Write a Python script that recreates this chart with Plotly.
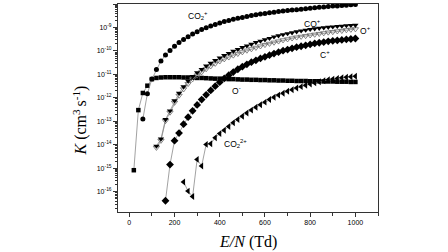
import plotly.graph_objects as go
import numpy as np

# E/N (Td) values per species
E_Om = [20, 40, 60, 80, 100, 120, 140, 160, 180, 200, 220, 240, 260, 280, 300, 320, 340, 360, 380, 400,
        420, 440, 460, 480, 500, 520, 540, 560, 580, 600, 620, 640, 660, 680, 700, 720, 740, 760, 780, 800,
        820, 840, 860, 880, 900, 920, 940, 960, 980, 1000]
logK_Om = [-15.08, -12.52, -11.79, -11.48, -11.2, -11.15, -11.13, -11.12, -11.12, -11.12, -11.12, -11.13,
           -11.13, -11.14, -11.15, -11.15, -11.16, -11.17, -11.18, -11.18, -11.19, -11.2, -11.2, -11.21,
           -11.22, -11.22, -11.23, -11.23, -11.24, -11.24, -11.25, -11.25, -11.26, -11.26, -11.27, -11.27,
           -11.28, -11.28, -11.28, -11.29, -11.29, -11.29, -11.3, -11.3, -11.3, -11.31, -11.31, -11.31,
           -11.32, -11.32]

E_CO2p = [60, 80, 100, 120, 140, 160, 180, 200, 220, 240, 260, 280, 300, 320, 340, 360, 380, 400,
          420, 440, 460, 480, 500, 520, 540, 560, 580, 600, 620, 640, 660, 680, 700, 720, 740, 760, 780, 800,
          820, 840, 860, 880, 900, 920, 940, 960, 980, 1000]
logK_CO2p = [-12.9, -11.82, -11.2, -10.79, -10.43, -10.17, -9.98, -9.8, -9.64, -9.51, -9.39, -9.28, -9.18,
             -9.09, -9.01, -8.94, -8.87, -8.81, -8.75, -8.7, -8.65, -8.61, -8.57, -8.53, -8.49, -8.46, -8.43,
             -8.4, -8.37, -8.35, -8.32, -8.3, -8.28, -8.26, -8.24, -8.22, -8.2, -8.18, -8.16, -8.14, -8.13,
             -8.11, -8.09, -8.08, -8.06, -8.05, -8.03, -8.02]

E_COp = [120, 140, 160, 180, 200, 220, 240, 260, 280, 300, 320, 340, 360, 380, 400,
         420, 440, 460, 480, 500, 520, 540, 560, 580, 600, 620, 640, 660, 680, 700, 720, 740, 760, 780, 800,
         820, 840, 860, 880, 900, 920, 940, 960, 980, 1000]
logK_COp = [-14.05, -13.75, -12.92, -12.55, -12.12, -11.8, -11.52, -11.28, -11.08, -10.92, -10.78, -10.64,
            -10.52, -10.4, -10.29, -10.19, -10.1, -10.01, -9.93, -9.85, -9.78, -9.71, -9.64, -9.58, -9.52,
            -9.46, -9.4, -9.35, -9.3, -9.26, -9.22, -9.18, -9.14, -9.11, -9.08, -9.05, -9.03, -9.01, -8.99,
            -8.97, -8.95, -8.94, -8.92, -8.91, -8.9]

E_Op = list(E_COp)
logK_Op = [-14.12, -13.82, -12.98, -12.62, -12.2, -11.9, -11.63, -11.4, -11.2, -11.04, -10.9, -10.77,
           -10.65, -10.54, -10.44, -10.35, -10.27, -10.19, -10.12, -10.05, -9.98, -9.92, -9.86, -9.8, -9.74,
           -9.69, -9.64, -9.59, -9.54, -9.5, -9.46, -9.42, -9.39, -9.36, -9.33, -9.3, -9.27, -9.24, -9.21,
           -9.19, -9.16, -9.14, -9.11, -9.09, -9.07]

E_Cp = [160, 180, 200, 220, 240, 260, 280, 300, 320, 340, 360, 380, 400,
        420, 440, 460, 480, 500, 520, 540, 560, 580, 600, 620, 640, 660, 680, 700, 720, 740, 760, 780, 800,
        820, 840, 860, 880, 900, 920, 940, 960, 980, 1000]
logK_Cp = [-16.38, -14.84, -13.82, -13.5, -13.12, -12.82, -12.55, -12.3, -12.07, -11.87, -11.68, -11.5,
           -11.33, -11.17, -11.03, -10.9, -10.78, -10.67, -10.57, -10.48, -10.4, -10.32, -10.25, -10.18,
           -10.11, -10.05, -9.99, -9.94, -9.89, -9.84, -9.8, -9.76, -9.72, -9.68, -9.65, -9.62, -9.59,
           -9.57, -9.55, -9.53, -9.51, -9.49, -9.47]

E_CO2pp = [240, 260, 280, 300, 320, 340, 360, 380, 400,
           420, 440, 460, 480, 500, 520, 540, 560, 580, 600, 620, 640, 660, 680, 700, 720, 740, 760, 780, 800,
           820, 840, 860, 880, 900, 920, 940, 960, 980, 1000]
logK_CO2pp = [-15.58, -15.97, -16.2, -14.62, -14.9, -13.98, -13.95, -13.7, -13.52, -13.38, -13.22, -13.06,
              -12.92, -12.78, -12.64, -12.52, -12.4, -12.29, -12.18, -12.07, -11.97, -11.88, -11.8, -11.72,
              -11.65, -11.58, -11.52, -11.46, -11.41, -11.36, -11.31, -11.27, -11.23, -11.2, -11.17, -11.14,
              -11.12, -11.1, -11.08]

y_tick_exps = [-8, -9, -10, -11, -12, -13, -14, -15, -16]
x_tick_vals = [0, 200, 400, 600, 800, 1000]

LINE = dict(color="#8a8a8a", width=0.8)

series = [
    (E_Om, logK_Om, dict(symbol="square", size=4.5, color="black")),
    (E_CO2p, logK_CO2p, dict(symbol="circle", size=5, color="black")),
    (E_Op, logK_Op, dict(symbol="triangle-down-open", size=5.5, color="#666666", line=dict(width=0.8))),
    (E_COp, logK_COp, dict(symbol="triangle-down", size=5.5, color="black")),
    (E_Cp, logK_Cp, dict(symbol="diamond", size=6, color="black")),
    (E_CO2pp, logK_CO2pp, dict(symbol="triangle-left", size=6, color="black")),
]

fig = go.Figure()
for ex, lk, mk in series:
    fig.add_trace(go.Scatter(x=ex, y=np.power(10.0, lk), mode="lines+markers",
                             line=LINE, marker=mk, showlegend=False, hoverinfo="skip"))

lab_font = dict(family="Liberation Sans, Arial", size=8.5, color="black")
labels = [
    (305, -8.49, "CO<sub>2</sub><sup>+</sup>"),
    (809, -8.81, "CO<sup>+</sup>"),
    (1045, -9.13, "O<sup>+</sup>"),
    (866, -10.16, "C<sup>+</sup>"),
    (475, -11.7, "O<sup>-</sup>"),
    (471, -13.94, "CO<sub>2</sub><sup>2+</sup>"),
]
for lx, ly, txt in labels:
    fig.add_annotation(x=lx, y=ly, xref="x", yref="y", text=txt, showarrow=False,
                       font=lab_font, xanchor="center", yanchor="middle")

title_font = dict(family="Liberation Serif, Times New Roman", size=16, color="black")
fig.add_annotation(x=-0.146, y=0.44, xref="paper", yref="paper", textangle=-90,
                   text="<i>K</i> (cm<sup>3 </sup>s<sup>-1</sup>)", showarrow=False,
                   font=title_font, xanchor="center", yanchor="middle")
fig.add_annotation(x=0.5, y=-0.144, xref="paper", yref="paper",
                   text="<i>E/N</i> (Td)", showarrow=False,
                   font=title_font, xanchor="center", yanchor="middle")

minor_y = [k * 10.0 ** e for e in range(-17, -7) for k in range(2, 10)]

tick_font = dict(family="Liberation Sans, Arial", size=7, color="black")
fig.update_xaxes(range=[-50, 1100], tickvals=x_tick_vals, ticks="outside", ticklen=4,
                 tickcolor="#333333", showline=True, linecolor="#333333", linewidth=1, mirror=True,
                 showgrid=False, zeroline=False, tickfont=tick_font, automargin=False,
                 minor=dict(dtick=100, tick0=0, ticks="outside", ticklen=3, tickcolor="#333333", showgrid=False))
fig.update_yaxes(type="log", range=[-16.86, -8.0],
                 tickvals=[10.0 ** e for e in y_tick_exps],
                 ticktext=["10<sup>%d</sup>" % e for e in y_tick_exps],
                 ticks="outside", ticklen=4, tickcolor="#333333",
                 showline=True, linecolor="#333333", linewidth=1, mirror=True,
                 showgrid=False, zeroline=False, tickfont=tick_font, automargin=False,
                 minor=dict(tickmode="array", tickvals=minor_y, ticks="outside", ticklen=2,
                            tickcolor="#333333", showgrid=False))

fig.update_layout(width=448, height=252, margin=dict(l=118, r=70, t=4, b=40),
                  paper_bgcolor="white", plot_bgcolor="white", showlegend=False)

fig.write_html("out.html", config={"displayModeBar": False},
               post_script="document.body.style.margin='0';document.body.style.overflow='hidden';")
